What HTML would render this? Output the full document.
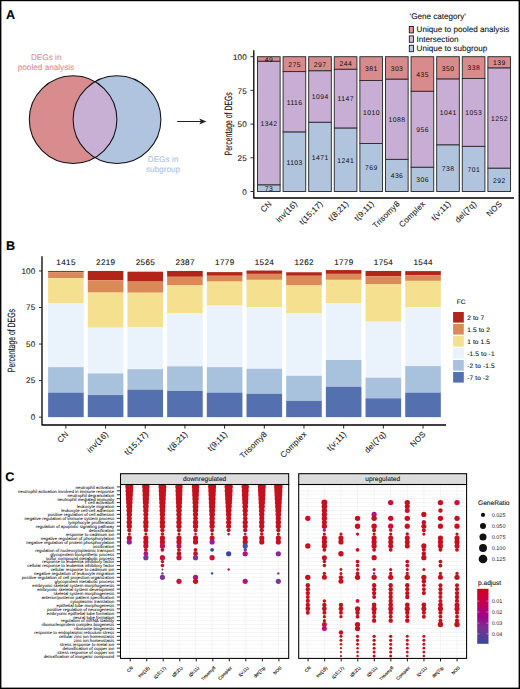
<!DOCTYPE html><html><head><meta charset="utf-8"><style>html,body{margin:0;padding:0;background:#fff}svg{display:block}text{font-family:"Liberation Sans", sans-serif;stroke-width:0.1px;text-rendering:geometricPrecision}</style></head><body>
<svg width="520" height="689" viewBox="0 0 520 689">
<rect width="520" height="689" fill="#fff"/>
<circle cx="73.1" cy="119.6" r="43.8" fill="#D98C8E"/>
<circle cx="117.0" cy="119.6" r="43.9" fill="#B0C4E0"/>
<clipPath id="cl"><circle cx="73.1" cy="119.6" r="43.8"/></clipPath>
<circle cx="117.0" cy="119.6" r="43.9" fill="#C8AFD4" clip-path="url(#cl)"/>
<circle cx="73.1" cy="119.6" r="43.8" fill="none" stroke="#111" stroke-width="1.05"/>
<circle cx="117.0" cy="119.6" r="43.9" fill="none" stroke="#111" stroke-width="1.05"/>
<g font-size="8.2" fill="#DA9094" text-anchor="middle" stroke="#DA9094"><text x="46.2" y="59.6">DEGs in</text><text x="46" y="69.6">pooled analysis</text></g>
<g font-size="8.2" fill="#AEC3E4" text-anchor="middle" stroke="#AEC3E4"><text x="163" y="162.3">DEGs in</text><text x="163" y="172.3">subgroup</text></g>
<line x1="177.2" y1="121.5" x2="201" y2="121.5" stroke="#222" stroke-width="1"/>
<path d="M206.4,121.5 L199.3,118.6 L200.9,121.5 L199.3,124.4 Z" fill="#222"/>
<rect x="257.48" y="184.78" width="22.65" height="6.72" fill="#B0C4DE" stroke="#2e2e2e" stroke-width="0.95"/>
<rect x="257.48" y="61.21" width="22.65" height="123.57" fill="#C8AED4" stroke="#2e2e2e" stroke-width="0.95"/>
<rect x="257.48" y="56.70" width="22.65" height="4.51" fill="#D88A8C" stroke="#2e2e2e" stroke-width="0.95"/>
<text x="269.02" y="191.04" font-size="6.8" letter-spacing="0.45" text-anchor="middle" fill="#111" stroke="none">73</text>
<text x="269.02" y="125.90" font-size="6.8" letter-spacing="0.45" text-anchor="middle" fill="#111" stroke="none">1342</text>
<text x="269.02" y="61.86" font-size="6.8" letter-spacing="0.45" text-anchor="middle" fill="#111" stroke="none">49</text>
<text transform="translate(272.20,204.3) rotate(-45)" text-anchor="end" letter-spacing="0.25" font-size="8.0" fill="#1a1a1a" stroke="#1a1a1a">CN</text>
<rect x="283.08" y="131.88" width="22.65" height="59.62" fill="#B0C4DE" stroke="#2e2e2e" stroke-width="0.95"/>
<rect x="283.08" y="71.56" width="22.65" height="60.32" fill="#C8AED4" stroke="#2e2e2e" stroke-width="0.95"/>
<rect x="283.08" y="56.70" width="22.65" height="14.86" fill="#D88A8C" stroke="#2e2e2e" stroke-width="0.95"/>
<text x="294.62" y="164.59" font-size="6.8" letter-spacing="0.45" text-anchor="middle" fill="#111" stroke="none">1103</text>
<text x="294.62" y="104.62" font-size="6.8" letter-spacing="0.45" text-anchor="middle" fill="#111" stroke="none">1116</text>
<text x="294.62" y="67.03" font-size="6.8" letter-spacing="0.45" text-anchor="middle" fill="#111" stroke="none">275</text>
<text transform="translate(297.80,204.3) rotate(-45)" text-anchor="end" letter-spacing="0.25" font-size="8.0" fill="#1a1a1a" stroke="#1a1a1a">inv(16)</text>
<rect x="308.68" y="122.22" width="22.65" height="69.28" fill="#B0C4DE" stroke="#2e2e2e" stroke-width="0.95"/>
<rect x="308.68" y="70.69" width="22.65" height="51.53" fill="#C8AED4" stroke="#2e2e2e" stroke-width="0.95"/>
<rect x="308.68" y="56.70" width="22.65" height="13.99" fill="#D88A8C" stroke="#2e2e2e" stroke-width="0.95"/>
<text x="320.22" y="159.76" font-size="6.8" letter-spacing="0.45" text-anchor="middle" fill="#111" stroke="none">1471</text>
<text x="320.22" y="99.35" font-size="6.8" letter-spacing="0.45" text-anchor="middle" fill="#111" stroke="none">1094</text>
<text x="320.22" y="66.59" font-size="6.8" letter-spacing="0.45" text-anchor="middle" fill="#111" stroke="none">297</text>
<text transform="translate(323.40,204.3) rotate(-45)" text-anchor="end" letter-spacing="0.25" font-size="8.0" fill="#1a1a1a" stroke="#1a1a1a">t(15;17)</text>
<rect x="334.28" y="127.94" width="22.65" height="63.56" fill="#B0C4DE" stroke="#2e2e2e" stroke-width="0.95"/>
<rect x="334.28" y="69.20" width="22.65" height="58.74" fill="#C8AED4" stroke="#2e2e2e" stroke-width="0.95"/>
<rect x="334.28" y="56.70" width="22.65" height="12.50" fill="#D88A8C" stroke="#2e2e2e" stroke-width="0.95"/>
<text x="345.82" y="162.62" font-size="6.8" letter-spacing="0.45" text-anchor="middle" fill="#111" stroke="none">1241</text>
<text x="345.82" y="101.47" font-size="6.8" letter-spacing="0.45" text-anchor="middle" fill="#111" stroke="none">1147</text>
<text x="345.82" y="65.85" font-size="6.8" letter-spacing="0.45" text-anchor="middle" fill="#111" stroke="none">244</text>
<text transform="translate(349.00,204.3) rotate(-45)" text-anchor="end" letter-spacing="0.25" font-size="8.0" fill="#1a1a1a" stroke="#1a1a1a">t(8;21)</text>
<rect x="359.88" y="143.51" width="22.65" height="47.99" fill="#B0C4DE" stroke="#2e2e2e" stroke-width="0.95"/>
<rect x="359.88" y="80.48" width="22.65" height="63.03" fill="#C8AED4" stroke="#2e2e2e" stroke-width="0.95"/>
<rect x="359.88" y="56.70" width="22.65" height="23.78" fill="#D88A8C" stroke="#2e2e2e" stroke-width="0.95"/>
<text x="371.42" y="170.40" font-size="6.8" letter-spacing="0.45" text-anchor="middle" fill="#111" stroke="none">769</text>
<text x="371.42" y="114.89" font-size="6.8" letter-spacing="0.45" text-anchor="middle" fill="#111" stroke="none">1010</text>
<text x="371.42" y="71.49" font-size="6.8" letter-spacing="0.45" text-anchor="middle" fill="#111" stroke="none">381</text>
<text transform="translate(374.60,204.3) rotate(-45)" text-anchor="end" letter-spacing="0.25" font-size="8.0" fill="#1a1a1a" stroke="#1a1a1a">t(9;11)</text>
<rect x="385.48" y="159.33" width="22.65" height="32.17" fill="#B0C4DE" stroke="#2e2e2e" stroke-width="0.95"/>
<rect x="385.48" y="79.06" width="22.65" height="80.27" fill="#C8AED4" stroke="#2e2e2e" stroke-width="0.95"/>
<rect x="385.48" y="56.70" width="22.65" height="22.36" fill="#D88A8C" stroke="#2e2e2e" stroke-width="0.95"/>
<text x="397.02" y="178.32" font-size="6.8" letter-spacing="0.45" text-anchor="middle" fill="#111" stroke="none">436</text>
<text x="397.02" y="122.09" font-size="6.8" letter-spacing="0.45" text-anchor="middle" fill="#111" stroke="none">1088</text>
<text x="397.02" y="70.78" font-size="6.8" letter-spacing="0.45" text-anchor="middle" fill="#111" stroke="none">303</text>
<text transform="translate(400.20,204.3) rotate(-45)" text-anchor="end" letter-spacing="0.25" font-size="8.0" fill="#1a1a1a" stroke="#1a1a1a">Trisomy8</text>
<rect x="411.08" y="167.19" width="22.65" height="24.31" fill="#B0C4DE" stroke="#2e2e2e" stroke-width="0.95"/>
<rect x="411.08" y="91.25" width="22.65" height="75.94" fill="#C8AED4" stroke="#2e2e2e" stroke-width="0.95"/>
<rect x="411.08" y="56.70" width="22.65" height="34.55" fill="#D88A8C" stroke="#2e2e2e" stroke-width="0.95"/>
<text x="422.62" y="182.25" font-size="6.8" letter-spacing="0.45" text-anchor="middle" fill="#111" stroke="none">306</text>
<text x="422.62" y="132.12" font-size="6.8" letter-spacing="0.45" text-anchor="middle" fill="#111" stroke="none">956</text>
<text x="422.62" y="76.88" font-size="6.8" letter-spacing="0.45" text-anchor="middle" fill="#111" stroke="none">435</text>
<text transform="translate(425.80,204.3) rotate(-45)" text-anchor="end" letter-spacing="0.25" font-size="8.0" fill="#1a1a1a" stroke="#1a1a1a">Complex</text>
<rect x="436.68" y="144.77" width="22.65" height="46.73" fill="#B0C4DE" stroke="#2e2e2e" stroke-width="0.95"/>
<rect x="436.68" y="78.86" width="22.65" height="65.91" fill="#C8AED4" stroke="#2e2e2e" stroke-width="0.95"/>
<rect x="436.68" y="56.70" width="22.65" height="22.16" fill="#D88A8C" stroke="#2e2e2e" stroke-width="0.95"/>
<text x="448.22" y="171.04" font-size="6.8" letter-spacing="0.45" text-anchor="middle" fill="#111" stroke="none">738</text>
<text x="448.22" y="114.72" font-size="6.8" letter-spacing="0.45" text-anchor="middle" fill="#111" stroke="none">1041</text>
<text x="448.22" y="70.68" font-size="6.8" letter-spacing="0.45" text-anchor="middle" fill="#111" stroke="none">350</text>
<text transform="translate(451.40,204.3) rotate(-45)" text-anchor="end" letter-spacing="0.25" font-size="8.0" fill="#1a1a1a" stroke="#1a1a1a">t(v;11)</text>
<rect x="462.28" y="146.33" width="22.65" height="45.17" fill="#B0C4DE" stroke="#2e2e2e" stroke-width="0.95"/>
<rect x="462.28" y="78.48" width="22.65" height="67.85" fill="#C8AED4" stroke="#2e2e2e" stroke-width="0.95"/>
<rect x="462.28" y="56.70" width="22.65" height="21.78" fill="#D88A8C" stroke="#2e2e2e" stroke-width="0.95"/>
<text x="473.82" y="171.82" font-size="6.8" letter-spacing="0.45" text-anchor="middle" fill="#111" stroke="none">701</text>
<text x="473.82" y="115.30" font-size="6.8" letter-spacing="0.45" text-anchor="middle" fill="#111" stroke="none">1053</text>
<text x="473.82" y="70.49" font-size="6.8" letter-spacing="0.45" text-anchor="middle" fill="#111" stroke="none">338</text>
<text transform="translate(477.00,204.3) rotate(-45)" text-anchor="end" letter-spacing="0.25" font-size="8.0" fill="#1a1a1a" stroke="#1a1a1a">del(7q)</text>
<rect x="487.88" y="168.11" width="22.65" height="23.39" fill="#B0C4DE" stroke="#2e2e2e" stroke-width="0.95"/>
<rect x="487.88" y="67.83" width="22.65" height="100.28" fill="#C8AED4" stroke="#2e2e2e" stroke-width="0.95"/>
<rect x="487.88" y="56.70" width="22.65" height="11.13" fill="#D88A8C" stroke="#2e2e2e" stroke-width="0.95"/>
<text x="499.42" y="182.71" font-size="6.8" letter-spacing="0.45" text-anchor="middle" fill="#111" stroke="none">292</text>
<text x="499.42" y="120.87" font-size="6.8" letter-spacing="0.45" text-anchor="middle" fill="#111" stroke="none">1252</text>
<text x="499.42" y="65.17" font-size="6.8" letter-spacing="0.45" text-anchor="middle" fill="#111" stroke="none">139</text>
<text transform="translate(502.60,204.3) rotate(-45)" text-anchor="end" letter-spacing="0.25" font-size="8.0" fill="#1a1a1a" stroke="#1a1a1a">NOS</text>
<path d="M253.8,50.2V198H514" fill="none" stroke="#000" stroke-width="1.3" stroke-linejoin="round"/>
<line x1="250.5" y1="191.50" x2="253.8" y2="191.50" stroke="#222" stroke-width="0.95"/>
<text x="247.0" y="194.70" letter-spacing="0.2" font-size="8.1" text-anchor="end" fill="#222" stroke="#222">0</text>
<line x1="250.5" y1="157.80" x2="253.8" y2="157.80" stroke="#222" stroke-width="0.95"/>
<text x="247.0" y="161.00" letter-spacing="0.2" font-size="8.1" text-anchor="end" fill="#222" stroke="#222">25</text>
<line x1="250.5" y1="124.10" x2="253.8" y2="124.10" stroke="#222" stroke-width="0.95"/>
<text x="247.0" y="127.30" letter-spacing="0.2" font-size="8.1" text-anchor="end" fill="#222" stroke="#222">50</text>
<line x1="250.5" y1="90.40" x2="253.8" y2="90.40" stroke="#222" stroke-width="0.95"/>
<text x="247.0" y="93.60" letter-spacing="0.2" font-size="8.1" text-anchor="end" fill="#222" stroke="#222">75</text>
<line x1="250.5" y1="56.70" x2="253.8" y2="56.70" stroke="#222" stroke-width="0.95"/>
<text x="247.0" y="59.90" letter-spacing="0.2" font-size="8.1" text-anchor="end" fill="#222" stroke="#222">100</text>
<text transform="translate(232.0,123.8) rotate(-90) scale(0.65,1)" text-anchor="middle" font-size="10.6" fill="#111" stroke="#111">Percentage of DEGs</text>
<text x="409.6" y="19.4" font-size="8.1" fill="#111" stroke="#111">'Gene category'</text>
<rect x="409.3" y="26.50" width="4.1" height="6.4" fill="#EE8E8E" stroke="#1a1a1a" stroke-width="0.9"/>
<text x="416.6" y="32.30" font-size="8.1" fill="#111" stroke="#111">Unique to pooled analysis</text>
<rect x="409.3" y="35.90" width="4.1" height="6.4" fill="#DDB8E6" stroke="#1a1a1a" stroke-width="0.9"/>
<text x="416.6" y="41.70" font-size="8.1" fill="#111" stroke="#111">Intersection</text>
<rect x="409.3" y="45.30" width="4.1" height="6.4" fill="#B8CEEE" stroke="#1a1a1a" stroke-width="0.9"/>
<text x="416.6" y="51.10" font-size="8.1" fill="#111" stroke="#111">Unique to subgroup</text>
<rect x="48.10" y="270.95" width="35.60" height="1.46" fill="#B32519"/>
<rect x="48.10" y="272.41" width="35.60" height="5.85" fill="#DA8A56"/>
<rect x="48.10" y="278.26" width="35.60" height="24.85" fill="#F4E08F"/>
<rect x="48.10" y="303.11" width="35.60" height="64.04" fill="#EAF2FB"/>
<rect x="48.10" y="367.15" width="35.60" height="25.44" fill="#A8C1DC"/>
<rect x="48.10" y="392.59" width="35.60" height="24.56" fill="#5470AE"/>
<text x="66.07" y="265.4" font-size="8.1" letter-spacing="0.35" text-anchor="middle" fill="#111" stroke="#111">1415</text>
<line x1="65.90" y1="425" x2="65.90" y2="428.6" stroke="#222" stroke-width="0.95"/>
<text transform="translate(69.10,434.6) rotate(-45)" text-anchor="end" letter-spacing="0.25" font-size="8.0" fill="#1a1a1a" stroke="#1a1a1a">CN</text>
<rect x="87.78" y="270.95" width="35.60" height="9.36" fill="#B32519"/>
<rect x="87.78" y="280.31" width="35.60" height="12.28" fill="#DA8A56"/>
<rect x="87.78" y="292.59" width="35.60" height="35.09" fill="#F4E08F"/>
<rect x="87.78" y="327.68" width="35.60" height="45.76" fill="#EAF2FB"/>
<rect x="87.78" y="373.44" width="35.60" height="21.64" fill="#A8C1DC"/>
<rect x="87.78" y="395.07" width="35.60" height="22.08" fill="#5470AE"/>
<text x="105.75" y="265.4" font-size="8.1" letter-spacing="0.35" text-anchor="middle" fill="#111" stroke="#111">2219</text>
<line x1="105.58" y1="425" x2="105.58" y2="428.6" stroke="#222" stroke-width="0.95"/>
<text transform="translate(108.78,434.6) rotate(-45)" text-anchor="end" letter-spacing="0.25" font-size="8.0" fill="#1a1a1a" stroke="#1a1a1a">inv(16)</text>
<rect x="127.46" y="271.68" width="35.60" height="9.94" fill="#B32519"/>
<rect x="127.46" y="281.62" width="35.60" height="11.11" fill="#DA8A56"/>
<rect x="127.46" y="292.73" width="35.60" height="34.50" fill="#F4E08F"/>
<rect x="127.46" y="327.24" width="35.60" height="41.96" fill="#EAF2FB"/>
<rect x="127.46" y="369.20" width="35.60" height="20.47" fill="#A8C1DC"/>
<rect x="127.46" y="389.66" width="35.60" height="27.49" fill="#5470AE"/>
<text x="145.43" y="265.4" font-size="8.1" letter-spacing="0.35" text-anchor="middle" fill="#111" stroke="#111">2565</text>
<line x1="145.26" y1="425" x2="145.26" y2="428.6" stroke="#222" stroke-width="0.95"/>
<text transform="translate(148.46,434.6) rotate(-45)" text-anchor="end" letter-spacing="0.25" font-size="8.0" fill="#1a1a1a" stroke="#1a1a1a">t(15;17)</text>
<rect x="167.14" y="270.95" width="35.60" height="5.85" fill="#B32519"/>
<rect x="167.14" y="276.80" width="35.60" height="8.63" fill="#DA8A56"/>
<rect x="167.14" y="285.42" width="35.60" height="27.92" fill="#F4E08F"/>
<rect x="167.14" y="313.35" width="35.60" height="52.92" fill="#EAF2FB"/>
<rect x="167.14" y="366.27" width="35.60" height="24.71" fill="#A8C1DC"/>
<rect x="167.14" y="390.98" width="35.60" height="26.17" fill="#5470AE"/>
<text x="185.11" y="265.4" font-size="8.1" letter-spacing="0.35" text-anchor="middle" fill="#111" stroke="#111">2387</text>
<line x1="184.94" y1="425" x2="184.94" y2="428.6" stroke="#222" stroke-width="0.95"/>
<text transform="translate(188.14,434.6) rotate(-45)" text-anchor="end" letter-spacing="0.25" font-size="8.0" fill="#1a1a1a" stroke="#1a1a1a">t(8;21)</text>
<rect x="206.82" y="272.12" width="35.60" height="3.65" fill="#B32519"/>
<rect x="206.82" y="275.77" width="35.60" height="5.85" fill="#DA8A56"/>
<rect x="206.82" y="281.62" width="35.60" height="23.98" fill="#F4E08F"/>
<rect x="206.82" y="305.60" width="35.60" height="61.55" fill="#EAF2FB"/>
<rect x="206.82" y="367.15" width="35.60" height="25.44" fill="#A8C1DC"/>
<rect x="206.82" y="392.59" width="35.60" height="24.56" fill="#5470AE"/>
<text x="224.79" y="265.4" font-size="8.1" letter-spacing="0.35" text-anchor="middle" fill="#111" stroke="#111">1779</text>
<line x1="224.62" y1="425" x2="224.62" y2="428.6" stroke="#222" stroke-width="0.95"/>
<text transform="translate(227.82,434.6) rotate(-45)" text-anchor="end" letter-spacing="0.25" font-size="8.0" fill="#1a1a1a" stroke="#1a1a1a">t(9;11)</text>
<rect x="246.50" y="270.51" width="35.60" height="3.36" fill="#B32519"/>
<rect x="246.50" y="273.87" width="35.60" height="5.99" fill="#DA8A56"/>
<rect x="246.50" y="279.87" width="35.60" height="27.49" fill="#F4E08F"/>
<rect x="246.50" y="307.35" width="35.60" height="61.40" fill="#EAF2FB"/>
<rect x="246.50" y="368.76" width="35.60" height="25.00" fill="#A8C1DC"/>
<rect x="246.50" y="393.76" width="35.60" height="23.39" fill="#5470AE"/>
<text x="264.47" y="265.4" font-size="8.1" letter-spacing="0.35" text-anchor="middle" fill="#111" stroke="#111">1524</text>
<line x1="264.30" y1="425" x2="264.30" y2="428.6" stroke="#222" stroke-width="0.95"/>
<text transform="translate(267.50,434.6) rotate(-45)" text-anchor="end" letter-spacing="0.25" font-size="8.0" fill="#1a1a1a" stroke="#1a1a1a">Trisomy8</text>
<rect x="286.18" y="272.27" width="35.60" height="3.51" fill="#B32519"/>
<rect x="286.18" y="275.77" width="35.60" height="9.65" fill="#DA8A56"/>
<rect x="286.18" y="285.42" width="35.60" height="28.07" fill="#F4E08F"/>
<rect x="286.18" y="313.49" width="35.60" height="62.28" fill="#EAF2FB"/>
<rect x="286.18" y="375.78" width="35.60" height="25.15" fill="#A8C1DC"/>
<rect x="286.18" y="400.92" width="35.60" height="16.23" fill="#5470AE"/>
<text x="304.15" y="265.4" font-size="8.1" letter-spacing="0.35" text-anchor="middle" fill="#111" stroke="#111">1262</text>
<line x1="303.98" y1="425" x2="303.98" y2="428.6" stroke="#222" stroke-width="0.95"/>
<text transform="translate(307.18,434.6) rotate(-45)" text-anchor="end" letter-spacing="0.25" font-size="8.0" fill="#1a1a1a" stroke="#1a1a1a">Complex</text>
<rect x="325.86" y="270.07" width="35.60" height="3.80" fill="#B32519"/>
<rect x="325.86" y="273.87" width="35.60" height="5.99" fill="#DA8A56"/>
<rect x="325.86" y="279.87" width="35.60" height="23.25" fill="#F4E08F"/>
<rect x="325.86" y="303.11" width="35.60" height="56.87" fill="#EAF2FB"/>
<rect x="325.86" y="359.99" width="35.60" height="26.75" fill="#A8C1DC"/>
<rect x="325.86" y="386.74" width="35.60" height="30.41" fill="#5470AE"/>
<text x="343.83" y="265.4" font-size="8.1" letter-spacing="0.35" text-anchor="middle" fill="#111" stroke="#111">1779</text>
<line x1="343.66" y1="425" x2="343.66" y2="428.6" stroke="#222" stroke-width="0.95"/>
<text transform="translate(346.86,434.6) rotate(-45)" text-anchor="end" letter-spacing="0.25" font-size="8.0" fill="#1a1a1a" stroke="#1a1a1a">t(v;11)</text>
<rect x="365.54" y="270.95" width="35.60" height="5.26" fill="#B32519"/>
<rect x="365.54" y="276.21" width="35.60" height="8.19" fill="#DA8A56"/>
<rect x="365.54" y="284.40" width="35.60" height="37.28" fill="#F4E08F"/>
<rect x="365.54" y="321.68" width="35.60" height="55.99" fill="#EAF2FB"/>
<rect x="365.54" y="377.68" width="35.60" height="20.61" fill="#A8C1DC"/>
<rect x="365.54" y="398.29" width="35.60" height="18.86" fill="#5470AE"/>
<text x="383.51" y="265.4" font-size="8.1" letter-spacing="0.35" text-anchor="middle" fill="#111" stroke="#111">1754</text>
<line x1="383.34" y1="425" x2="383.34" y2="428.6" stroke="#222" stroke-width="0.95"/>
<text transform="translate(386.54,434.6) rotate(-45)" text-anchor="end" letter-spacing="0.25" font-size="8.0" fill="#1a1a1a" stroke="#1a1a1a">del(7q)</text>
<rect x="405.22" y="271.10" width="35.60" height="4.09" fill="#B32519"/>
<rect x="405.22" y="275.19" width="35.60" height="5.70" fill="#DA8A56"/>
<rect x="405.22" y="280.89" width="35.60" height="26.46" fill="#F4E08F"/>
<rect x="405.22" y="307.35" width="35.60" height="58.77" fill="#EAF2FB"/>
<rect x="405.22" y="366.13" width="35.60" height="26.46" fill="#A8C1DC"/>
<rect x="405.22" y="392.59" width="35.60" height="24.56" fill="#5470AE"/>
<text x="423.19" y="265.4" font-size="8.1" letter-spacing="0.35" text-anchor="middle" fill="#111" stroke="#111">1544</text>
<line x1="423.02" y1="425" x2="423.02" y2="428.6" stroke="#222" stroke-width="0.95"/>
<text transform="translate(426.22,434.6) rotate(-45)" text-anchor="end" letter-spacing="0.25" font-size="8.0" fill="#1a1a1a" stroke="#1a1a1a">NOS</text>
<path d="M42,256.2V425H446" fill="none" stroke="#000" stroke-width="1.3" stroke-linejoin="round"/>
<line x1="39" y1="417.15" x2="42" y2="417.15" stroke="#222" stroke-width="0.95"/>
<text x="35.5" y="419.85" letter-spacing="0.2" font-size="8.1" text-anchor="end" fill="#222" stroke="#222">0</text>
<line x1="39" y1="380.60" x2="42" y2="380.60" stroke="#222" stroke-width="0.95"/>
<text x="35.5" y="383.30" letter-spacing="0.2" font-size="8.1" text-anchor="end" fill="#222" stroke="#222">25</text>
<line x1="39" y1="344.05" x2="42" y2="344.05" stroke="#222" stroke-width="0.95"/>
<text x="35.5" y="346.75" letter-spacing="0.2" font-size="8.1" text-anchor="end" fill="#222" stroke="#222">50</text>
<line x1="39" y1="307.50" x2="42" y2="307.50" stroke="#222" stroke-width="0.95"/>
<text x="35.5" y="310.20" letter-spacing="0.2" font-size="8.1" text-anchor="end" fill="#222" stroke="#222">75</text>
<line x1="39" y1="270.95" x2="42" y2="270.95" stroke="#222" stroke-width="0.95"/>
<text x="35.5" y="273.65" letter-spacing="0.2" font-size="8.1" text-anchor="end" fill="#222" stroke="#222">100</text>
<text transform="translate(14.5,340.6) rotate(-90) scale(0.65,1)" text-anchor="middle" font-size="10.6" fill="#111" stroke="#111">Percentage of DEGs</text>
<text x="456.8" y="303.5" font-size="6.5" fill="#111" stroke="#111">FC</text>
<rect x="453.1" y="312.00" width="10.7" height="10.6" fill="#B32519"/>
<text x="467.2" y="319.60" font-size="6.5" letter-spacing="0.15" fill="#111" stroke="#111">2 to 7</text>
<rect x="453.1" y="324.00" width="10.7" height="10.6" fill="#DA8A56"/>
<text x="467.2" y="331.60" font-size="6.5" letter-spacing="0.15" fill="#111" stroke="#111">1.5 to 2</text>
<rect x="453.1" y="336.00" width="10.7" height="10.6" fill="#F4E08F"/>
<text x="467.2" y="343.60" font-size="6.5" letter-spacing="0.15" fill="#111" stroke="#111">1 to 1.5</text>
<rect x="453.1" y="348.00" width="10.7" height="10.6" fill="#EAF2FB"/>
<text x="467.2" y="355.60" font-size="6.5" letter-spacing="0.15" fill="#111" stroke="#111">-1.5 to -1</text>
<rect x="453.1" y="360.00" width="10.7" height="10.6" fill="#A8C1DC"/>
<text x="467.2" y="367.60" font-size="6.5" letter-spacing="0.15" fill="#111" stroke="#111">-2 to -1.5</text>
<rect x="453.1" y="372.00" width="10.7" height="10.6" fill="#5470AE"/>
<text x="467.2" y="379.60" font-size="6.5" letter-spacing="0.15" fill="#111" stroke="#111">-7 to -2</text>
<clipPath id="cd"><rect x="120.5" y="484.5" width="168.3" height="173.9"/></clipPath>
<clipPath id="cu"><rect x="298.7" y="484.5" width="167.9" height="173.9"/></clipPath>
<path d="M120.5,486.86H288.7M120.5,490.80H288.7M120.5,494.73H288.7M120.5,498.66H288.7M120.5,502.60H288.7M120.5,506.53H288.7M120.5,510.47H288.7M120.5,514.40H288.7M120.5,518.34H288.7M120.5,522.27H288.7M120.5,526.20H288.7M120.5,530.14H288.7M120.5,534.07H288.7M120.5,538.01H288.7M120.5,541.94H288.7M120.5,545.88H288.7M120.5,549.81H288.7M120.5,553.75H288.7M120.5,557.68H288.7M120.5,561.61H288.7M120.5,565.55H288.7M120.5,569.48H288.7M120.5,573.42H288.7M120.5,577.35H288.7M120.5,581.29H288.7M120.5,585.22H288.7M120.5,589.15H288.7M120.5,593.09H288.7M120.5,597.02H288.7M120.5,600.96H288.7M120.5,604.89H288.7M120.5,608.83H288.7M120.5,612.76H288.7M120.5,616.70H288.7M120.5,620.63H288.7M120.5,624.56H288.7M120.5,628.50H288.7M120.5,632.43H288.7M120.5,636.37H288.7M120.5,640.30H288.7M120.5,644.24H288.7M120.5,648.17H288.7M120.5,652.10H288.7M120.5,656.04H288.7M129.30,484.5V658.4M145.86,484.5V658.4M162.42,484.5V658.4M178.98,484.5V658.4M195.54,484.5V658.4M212.10,484.5V658.4M228.66,484.5V658.4M245.22,484.5V658.4M261.78,484.5V658.4M278.34,484.5V658.4" stroke="#EBEBEB" stroke-width="0.55" fill="none"/>
<g clip-path="url(#cd)">
<circle cx="129.30" cy="486.86" r="4.00" fill="#C6101E"/>
<circle cx="129.30" cy="490.80" r="3.81" fill="#C6101E"/>
<circle cx="129.30" cy="494.73" r="3.62" fill="#C6101E"/>
<circle cx="129.30" cy="498.66" r="3.44" fill="#C6101E"/>
<circle cx="129.30" cy="502.60" r="3.25" fill="#C6101E"/>
<circle cx="129.30" cy="506.53" r="3.06" fill="#C6101E"/>
<circle cx="129.30" cy="510.47" r="2.88" fill="#C6101E"/>
<circle cx="129.30" cy="514.40" r="2.69" fill="#C6101E"/>
<circle cx="129.30" cy="518.34" r="2.50" fill="#C6101E"/>
<circle cx="129.30" cy="522.27" r="2.70" fill="#C6101E"/>
<circle cx="129.30" cy="526.20" r="2.60" fill="#C6101E"/>
<circle cx="129.30" cy="530.14" r="2.00" fill="#C6101E"/>
<circle cx="129.30" cy="534.07" r="1.50" fill="#C6101E"/>
<circle cx="129.30" cy="538.01" r="2.60" fill="#C6101E"/>
<circle cx="129.30" cy="541.94" r="2.60" fill="#9A1C98"/>
<circle cx="145.86" cy="486.86" r="3.70" fill="#C6101E"/>
<circle cx="145.86" cy="490.80" r="3.53" fill="#C6101E"/>
<circle cx="145.86" cy="494.73" r="3.36" fill="#C6101E"/>
<circle cx="145.86" cy="498.66" r="3.19" fill="#C6101E"/>
<circle cx="145.86" cy="502.60" r="3.03" fill="#C6101E"/>
<circle cx="145.86" cy="506.53" r="2.86" fill="#C6101E"/>
<circle cx="145.86" cy="510.47" r="2.69" fill="#C6101E"/>
<circle cx="145.86" cy="514.40" r="2.52" fill="#C6101E"/>
<circle cx="145.86" cy="518.34" r="2.35" fill="#C6101E"/>
<circle cx="145.86" cy="522.27" r="2.70" fill="#C6101E"/>
<circle cx="145.86" cy="526.20" r="2.60" fill="#C6101E"/>
<circle cx="145.86" cy="530.14" r="2.15" fill="#C6101E"/>
<circle cx="145.86" cy="534.07" r="1.50" fill="#C6101E"/>
<circle cx="145.86" cy="538.01" r="2.60" fill="#C6101E"/>
<circle cx="145.86" cy="541.94" r="2.60" fill="#C6101E"/>
<circle cx="145.86" cy="545.88" r="2.60" fill="#C81038"/>
<circle cx="145.86" cy="549.81" r="1.90" fill="#C6101E"/>
<circle cx="145.86" cy="553.75" r="2.40" fill="#B8107A"/>
<circle cx="145.86" cy="557.68" r="2.60" fill="#7A3898"/>
<circle cx="162.42" cy="486.86" r="3.90" fill="#C6101E"/>
<circle cx="162.42" cy="490.80" r="3.73" fill="#C6101E"/>
<circle cx="162.42" cy="494.73" r="3.55" fill="#C6101E"/>
<circle cx="162.42" cy="498.66" r="3.38" fill="#C6101E"/>
<circle cx="162.42" cy="502.60" r="3.20" fill="#C6101E"/>
<circle cx="162.42" cy="506.53" r="3.02" fill="#C6101E"/>
<circle cx="162.42" cy="510.47" r="2.85" fill="#C6101E"/>
<circle cx="162.42" cy="514.40" r="2.67" fill="#C6101E"/>
<circle cx="162.42" cy="518.34" r="2.50" fill="#C6101E"/>
<circle cx="162.42" cy="522.27" r="2.70" fill="#C6101E"/>
<circle cx="162.42" cy="526.20" r="2.60" fill="#C6101E"/>
<circle cx="162.42" cy="530.14" r="2.15" fill="#C6101E"/>
<circle cx="162.42" cy="534.07" r="1.75" fill="#C6101E"/>
<circle cx="162.42" cy="538.01" r="2.60" fill="#C6101E"/>
<circle cx="162.42" cy="541.94" r="2.60" fill="#C6101E"/>
<circle cx="162.42" cy="545.88" r="2.60" fill="#C0105A"/>
<circle cx="162.42" cy="549.81" r="1.90" fill="#C6101E"/>
<circle cx="162.42" cy="557.68" r="2.60" fill="#C81038"/>
<circle cx="162.42" cy="561.61" r="1.70" fill="#C6101E"/>
<circle cx="162.42" cy="565.55" r="1.80" fill="#C6101E"/>
<circle cx="162.42" cy="569.48" r="1.00" fill="#9A1C98"/>
<circle cx="162.42" cy="573.42" r="1.20" fill="#9A1C98"/>
<circle cx="162.42" cy="577.35" r="2.60" fill="#7A3898"/>
<circle cx="178.98" cy="486.86" r="3.70" fill="#C6101E"/>
<circle cx="178.98" cy="490.80" r="3.55" fill="#C6101E"/>
<circle cx="178.98" cy="494.73" r="3.40" fill="#C6101E"/>
<circle cx="178.98" cy="498.66" r="3.25" fill="#C6101E"/>
<circle cx="178.98" cy="502.60" r="3.10" fill="#C6101E"/>
<circle cx="178.98" cy="506.53" r="2.95" fill="#C6101E"/>
<circle cx="178.98" cy="510.47" r="2.80" fill="#C6101E"/>
<circle cx="178.98" cy="514.40" r="2.65" fill="#C6101E"/>
<circle cx="178.98" cy="518.34" r="2.50" fill="#C6101E"/>
<circle cx="178.98" cy="522.27" r="2.70" fill="#C6101E"/>
<circle cx="178.98" cy="526.20" r="2.60" fill="#C6101E"/>
<circle cx="178.98" cy="530.14" r="2.00" fill="#C6101E"/>
<circle cx="178.98" cy="534.07" r="1.50" fill="#C6101E"/>
<circle cx="178.98" cy="538.01" r="2.60" fill="#C6101E"/>
<circle cx="178.98" cy="541.94" r="2.60" fill="#C6101E"/>
<circle cx="178.98" cy="545.88" r="2.50" fill="#C0105A"/>
<circle cx="178.98" cy="549.81" r="1.90" fill="#C6101E"/>
<circle cx="178.98" cy="553.75" r="2.40" fill="#C6101E"/>
<circle cx="178.98" cy="557.68" r="2.60" fill="#C81038"/>
<circle cx="178.98" cy="581.29" r="2.60" fill="#C81038"/>
<circle cx="195.54" cy="486.86" r="3.70" fill="#C6101E"/>
<circle cx="195.54" cy="490.80" r="3.54" fill="#C6101E"/>
<circle cx="195.54" cy="494.73" r="3.38" fill="#C6101E"/>
<circle cx="195.54" cy="498.66" r="3.21" fill="#C6101E"/>
<circle cx="195.54" cy="502.60" r="3.05" fill="#C6101E"/>
<circle cx="195.54" cy="506.53" r="2.89" fill="#C6101E"/>
<circle cx="195.54" cy="510.47" r="2.73" fill="#C6101E"/>
<circle cx="195.54" cy="514.40" r="2.56" fill="#C6101E"/>
<circle cx="195.54" cy="518.34" r="2.40" fill="#C6101E"/>
<circle cx="195.54" cy="522.27" r="2.70" fill="#C6101E"/>
<circle cx="195.54" cy="526.20" r="2.60" fill="#C6101E"/>
<circle cx="195.54" cy="530.14" r="2.00" fill="#C6101E"/>
<circle cx="195.54" cy="534.07" r="1.40" fill="#B8107A"/>
<circle cx="195.54" cy="538.01" r="2.60" fill="#C6101E"/>
<circle cx="195.54" cy="541.94" r="2.60" fill="#C6101E"/>
<circle cx="195.54" cy="549.81" r="1.90" fill="#C6101E"/>
<circle cx="195.54" cy="553.75" r="2.40" fill="#C6101E"/>
<circle cx="195.54" cy="557.68" r="2.60" fill="#7A3898"/>
<circle cx="195.54" cy="577.35" r="2.60" fill="#B8107A"/>
<circle cx="195.54" cy="581.29" r="2.60" fill="#C6101E"/>
<circle cx="212.10" cy="486.86" r="4.00" fill="#C6101E"/>
<circle cx="212.10" cy="490.80" r="3.83" fill="#C6101E"/>
<circle cx="212.10" cy="494.73" r="3.66" fill="#C6101E"/>
<circle cx="212.10" cy="498.66" r="3.49" fill="#C6101E"/>
<circle cx="212.10" cy="502.60" r="3.33" fill="#C6101E"/>
<circle cx="212.10" cy="506.53" r="3.16" fill="#C6101E"/>
<circle cx="212.10" cy="510.47" r="2.99" fill="#C6101E"/>
<circle cx="212.10" cy="514.40" r="2.82" fill="#C6101E"/>
<circle cx="212.10" cy="518.34" r="2.65" fill="#C6101E"/>
<circle cx="212.10" cy="522.27" r="2.70" fill="#C6101E"/>
<circle cx="212.10" cy="526.20" r="2.60" fill="#C6101E"/>
<circle cx="212.10" cy="530.14" r="2.00" fill="#C6101E"/>
<circle cx="212.10" cy="534.07" r="1.50" fill="#C6101E"/>
<circle cx="212.10" cy="538.01" r="2.50" fill="#C6101E"/>
<circle cx="212.10" cy="541.94" r="2.60" fill="#9A1C98"/>
<circle cx="212.10" cy="549.81" r="1.90" fill="#3848A0"/>
<circle cx="212.10" cy="557.68" r="2.60" fill="#C81038"/>
<circle cx="212.10" cy="573.42" r="1.20" fill="#3848A0"/>
<circle cx="228.66" cy="486.86" r="4.20" fill="#C6101E"/>
<circle cx="228.66" cy="490.80" r="3.99" fill="#C6101E"/>
<circle cx="228.66" cy="494.73" r="3.78" fill="#C6101E"/>
<circle cx="228.66" cy="498.66" r="3.56" fill="#C6101E"/>
<circle cx="228.66" cy="502.60" r="3.35" fill="#C6101E"/>
<circle cx="228.66" cy="506.53" r="3.14" fill="#C6101E"/>
<circle cx="228.66" cy="510.47" r="2.92" fill="#C6101E"/>
<circle cx="228.66" cy="514.40" r="2.71" fill="#C6101E"/>
<circle cx="228.66" cy="518.34" r="2.50" fill="#C6101E"/>
<circle cx="228.66" cy="522.27" r="2.60" fill="#C6101E"/>
<circle cx="228.66" cy="526.20" r="2.50" fill="#C6101E"/>
<circle cx="228.66" cy="530.14" r="1.90" fill="#C6101E"/>
<circle cx="228.66" cy="534.07" r="1.40" fill="#B8107A"/>
<circle cx="228.66" cy="553.75" r="2.60" fill="#3848A0"/>
<circle cx="228.66" cy="569.48" r="1.20" fill="#B8107A"/>
<circle cx="245.22" cy="486.86" r="3.70" fill="#C6101E"/>
<circle cx="245.22" cy="490.80" r="3.53" fill="#C6101E"/>
<circle cx="245.22" cy="494.73" r="3.35" fill="#C6101E"/>
<circle cx="245.22" cy="498.66" r="3.17" fill="#C6101E"/>
<circle cx="245.22" cy="502.60" r="3.00" fill="#C6101E"/>
<circle cx="245.22" cy="506.53" r="2.83" fill="#C6101E"/>
<circle cx="245.22" cy="510.47" r="2.65" fill="#C6101E"/>
<circle cx="245.22" cy="514.40" r="2.47" fill="#C6101E"/>
<circle cx="245.22" cy="518.34" r="2.30" fill="#C6101E"/>
<circle cx="245.22" cy="522.27" r="2.60" fill="#C6101E"/>
<circle cx="245.22" cy="526.20" r="2.50" fill="#C6101E"/>
<circle cx="245.22" cy="530.14" r="2.10" fill="#C6101E"/>
<circle cx="245.22" cy="534.07" r="1.40" fill="#B8107A"/>
<circle cx="245.22" cy="538.01" r="2.60" fill="#C6101E"/>
<circle cx="245.22" cy="541.94" r="2.60" fill="#C6101E"/>
<circle cx="245.22" cy="545.88" r="2.60" fill="#4A50A8"/>
<circle cx="245.22" cy="549.81" r="1.70" fill="#6A3A9A"/>
<circle cx="245.22" cy="553.75" r="2.60" fill="#B8107A"/>
<circle cx="245.22" cy="581.29" r="2.60" fill="#B8107A"/>
<circle cx="261.78" cy="486.86" r="4.00" fill="#C6101E"/>
<circle cx="261.78" cy="490.80" r="3.81" fill="#C6101E"/>
<circle cx="261.78" cy="494.73" r="3.62" fill="#C6101E"/>
<circle cx="261.78" cy="498.66" r="3.44" fill="#C6101E"/>
<circle cx="261.78" cy="502.60" r="3.25" fill="#C6101E"/>
<circle cx="261.78" cy="506.53" r="3.06" fill="#C6101E"/>
<circle cx="261.78" cy="510.47" r="2.88" fill="#C6101E"/>
<circle cx="261.78" cy="514.40" r="2.69" fill="#C6101E"/>
<circle cx="261.78" cy="518.34" r="2.50" fill="#C6101E"/>
<circle cx="261.78" cy="522.27" r="2.70" fill="#C6101E"/>
<circle cx="261.78" cy="526.20" r="2.60" fill="#C6101E"/>
<circle cx="261.78" cy="530.14" r="2.15" fill="#C6101E"/>
<circle cx="261.78" cy="534.07" r="1.80" fill="#C6101E"/>
<circle cx="261.78" cy="538.01" r="2.60" fill="#C6101E"/>
<circle cx="261.78" cy="541.94" r="2.60" fill="#C6101E"/>
<circle cx="278.34" cy="486.86" r="4.30" fill="#C6101E"/>
<circle cx="278.34" cy="490.80" r="4.09" fill="#C6101E"/>
<circle cx="278.34" cy="494.73" r="3.88" fill="#C6101E"/>
<circle cx="278.34" cy="498.66" r="3.66" fill="#C6101E"/>
<circle cx="278.34" cy="502.60" r="3.45" fill="#C6101E"/>
<circle cx="278.34" cy="506.53" r="3.24" fill="#C6101E"/>
<circle cx="278.34" cy="510.47" r="3.02" fill="#C6101E"/>
<circle cx="278.34" cy="514.40" r="2.81" fill="#C6101E"/>
<circle cx="278.34" cy="518.34" r="2.60" fill="#C6101E"/>
<circle cx="278.34" cy="522.27" r="2.70" fill="#C6101E"/>
<circle cx="278.34" cy="526.20" r="2.60" fill="#C6101E"/>
<circle cx="278.34" cy="530.14" r="2.10" fill="#C6101E"/>
<circle cx="278.34" cy="534.07" r="1.60" fill="#C6101E"/>
<circle cx="278.34" cy="538.01" r="2.60" fill="#C6101E"/>
<circle cx="278.34" cy="541.94" r="2.60" fill="#C6101E"/>
<circle cx="278.34" cy="553.75" r="2.60" fill="#9A1C98"/>
<circle cx="278.34" cy="573.42" r="1.20" fill="#9A1C98"/>
<circle cx="278.34" cy="581.29" r="2.60" fill="#7A3898"/>
</g>
<rect x="120.5" y="484.5" width="168.20" height="173.90" fill="none" stroke="#000" stroke-width="1.05"/>
<rect x="120.5" y="473.7" width="168.20" height="10.80" fill="#DCDCDC" stroke="#000" stroke-width="1.05"/>
<text x="204.60" y="481.4" font-size="6.6" text-anchor="middle" fill="#1a1a1a" stroke="#1a1a1a">downregulated</text>
<text transform="translate(133.20,668.1) rotate(-45)" text-anchor="end" font-size="4.45" fill="#000" stroke="#000">CN</text>
<text transform="translate(149.72,668.1) rotate(-45)" text-anchor="end" font-size="4.45" fill="#000" stroke="#000">inv(16)</text>
<text transform="translate(166.24,668.1) rotate(-45)" text-anchor="end" font-size="4.45" fill="#000" stroke="#000">t(15;17)</text>
<text transform="translate(182.76,668.1) rotate(-45)" text-anchor="end" font-size="4.45" fill="#000" stroke="#000">t(8;21)</text>
<text transform="translate(199.28,668.1) rotate(-45)" text-anchor="end" font-size="4.45" fill="#000" stroke="#000">t(9;11)</text>
<text transform="translate(215.80,668.1) rotate(-45)" text-anchor="end" font-size="4.45" fill="#000" stroke="#000">Trisomy8</text>
<text transform="translate(232.32,668.1) rotate(-45)" text-anchor="end" font-size="4.45" fill="#000" stroke="#000">Complex</text>
<text transform="translate(248.84,668.1) rotate(-45)" text-anchor="end" font-size="4.45" fill="#000" stroke="#000">t(v;11)</text>
<text transform="translate(265.36,668.1) rotate(-45)" text-anchor="end" font-size="4.45" fill="#000" stroke="#000">del(7q)</text>
<text transform="translate(281.88,668.1) rotate(-45)" text-anchor="end" font-size="4.45" fill="#000" stroke="#000">NOS</text>
<path d="M130.20,658.4V661.4M146.72,658.4V661.4M163.24,658.4V661.4M179.76,658.4V661.4M196.28,658.4V661.4M212.80,658.4V661.4M229.32,658.4V661.4M245.84,658.4V661.4M262.36,658.4V661.4M278.88,658.4V661.4" stroke="#000" stroke-width="0.9"/>
<path d="M298.7,486.86H466.6M298.7,490.80H466.6M298.7,494.73H466.6M298.7,498.66H466.6M298.7,502.60H466.6M298.7,506.53H466.6M298.7,510.47H466.6M298.7,514.40H466.6M298.7,518.34H466.6M298.7,522.27H466.6M298.7,526.20H466.6M298.7,530.14H466.6M298.7,534.07H466.6M298.7,538.01H466.6M298.7,541.94H466.6M298.7,545.88H466.6M298.7,549.81H466.6M298.7,553.75H466.6M298.7,557.68H466.6M298.7,561.61H466.6M298.7,565.55H466.6M298.7,569.48H466.6M298.7,573.42H466.6M298.7,577.35H466.6M298.7,581.29H466.6M298.7,585.22H466.6M298.7,589.15H466.6M298.7,593.09H466.6M298.7,597.02H466.6M298.7,600.96H466.6M298.7,604.89H466.6M298.7,608.83H466.6M298.7,612.76H466.6M298.7,616.70H466.6M298.7,620.63H466.6M298.7,624.56H466.6M298.7,628.50H466.6M298.7,632.43H466.6M298.7,636.37H466.6M298.7,640.30H466.6M298.7,644.24H466.6M298.7,648.17H466.6M298.7,652.10H466.6M298.7,656.04H466.6M307.80,484.5V658.4M324.38,484.5V658.4M340.96,484.5V658.4M357.54,484.5V658.4M374.12,484.5V658.4M390.70,484.5V658.4M407.28,484.5V658.4M423.86,484.5V658.4M440.44,484.5V658.4M457.02,484.5V658.4" stroke="#EBEBEB" stroke-width="0.55" fill="none"/>
<g clip-path="url(#cu)">
<circle cx="307.80" cy="518.34" r="2.70" fill="#C6101E"/>
<circle cx="307.80" cy="545.88" r="2.70" fill="#C6101E"/>
<circle cx="307.80" cy="577.35" r="2.70" fill="#C6101E"/>
<circle cx="307.80" cy="585.22" r="2.20" fill="#C6101E"/>
<circle cx="307.80" cy="589.15" r="2.20" fill="#C6101E"/>
<circle cx="307.80" cy="593.09" r="2.20" fill="#C6101E"/>
<circle cx="307.80" cy="597.02" r="2.00" fill="#C6101E"/>
<circle cx="307.80" cy="600.96" r="2.10" fill="#C6101E"/>
<circle cx="307.80" cy="604.89" r="2.20" fill="#C6101E"/>
<circle cx="307.80" cy="608.83" r="2.40" fill="#C6101E"/>
<circle cx="307.80" cy="612.76" r="2.00" fill="#C6101E"/>
<circle cx="324.38" cy="502.60" r="3.00" fill="#C6101E"/>
<circle cx="324.38" cy="506.53" r="2.80" fill="#C6101E"/>
<circle cx="324.38" cy="510.47" r="2.70" fill="#C6101E"/>
<circle cx="324.38" cy="514.40" r="2.70" fill="#C6101E"/>
<circle cx="324.38" cy="518.34" r="2.70" fill="#C6101E"/>
<circle cx="324.38" cy="522.27" r="2.50" fill="#C6101E"/>
<circle cx="324.38" cy="526.20" r="2.60" fill="#C6101E"/>
<circle cx="324.38" cy="530.14" r="1.60" fill="#9A1C98"/>
<circle cx="324.38" cy="534.07" r="1.60" fill="#C6101E"/>
<circle cx="324.38" cy="538.01" r="2.60" fill="#C6101E"/>
<circle cx="324.38" cy="541.94" r="2.60" fill="#C6101E"/>
<circle cx="324.38" cy="545.88" r="2.60" fill="#C6101E"/>
<circle cx="324.38" cy="549.81" r="1.90" fill="#C6101E"/>
<circle cx="324.38" cy="557.68" r="2.50" fill="#C6101E"/>
<circle cx="324.38" cy="561.61" r="1.75" fill="#C6101E"/>
<circle cx="324.38" cy="565.55" r="1.80" fill="#C6101E"/>
<circle cx="324.38" cy="573.42" r="1.70" fill="#C6101E"/>
<circle cx="324.38" cy="577.35" r="2.50" fill="#C6101E"/>
<circle cx="324.38" cy="600.96" r="1.75" fill="#C6101E"/>
<circle cx="324.38" cy="604.89" r="2.20" fill="#C6101E"/>
<circle cx="324.38" cy="608.83" r="2.40" fill="#C6101E"/>
<circle cx="324.38" cy="612.76" r="2.00" fill="#C6101E"/>
<circle cx="324.38" cy="616.70" r="1.65" fill="#C6101E"/>
<circle cx="324.38" cy="620.63" r="1.65" fill="#C6101E"/>
<circle cx="324.38" cy="624.56" r="2.50" fill="#C81038"/>
<circle cx="324.38" cy="628.50" r="2.50" fill="#B8107A"/>
<circle cx="340.96" cy="534.07" r="1.60" fill="#C6101E"/>
<circle cx="340.96" cy="538.01" r="2.60" fill="#C6101E"/>
<circle cx="340.96" cy="541.94" r="2.60" fill="#C6101E"/>
<circle cx="340.96" cy="553.75" r="2.70" fill="#C6101E"/>
<circle cx="340.96" cy="569.48" r="1.40" fill="#C6101E"/>
<circle cx="340.96" cy="573.42" r="1.50" fill="#C6101E"/>
<circle cx="340.96" cy="577.35" r="2.20" fill="#C6101E"/>
<circle cx="340.96" cy="581.29" r="2.50" fill="#C6101E"/>
<circle cx="340.96" cy="604.89" r="2.20" fill="#C6101E"/>
<circle cx="340.96" cy="608.83" r="2.40" fill="#C6101E"/>
<circle cx="340.96" cy="612.76" r="2.00" fill="#C6101E"/>
<circle cx="340.96" cy="616.70" r="1.65" fill="#C6101E"/>
<circle cx="340.96" cy="632.43" r="2.20" fill="#C6101E"/>
<circle cx="340.96" cy="636.37" r="1.50" fill="#C6101E"/>
<circle cx="340.96" cy="640.30" r="1.50" fill="#C6101E"/>
<circle cx="340.96" cy="644.24" r="1.25" fill="#C6101E"/>
<circle cx="340.96" cy="648.17" r="1.10" fill="#C6101E"/>
<circle cx="340.96" cy="652.10" r="1.10" fill="#C6101E"/>
<circle cx="340.96" cy="656.04" r="1.10" fill="#C6101E"/>
<circle cx="357.54" cy="518.34" r="2.70" fill="#C6101E"/>
<circle cx="357.54" cy="526.20" r="2.70" fill="#C6101E"/>
<circle cx="357.54" cy="534.07" r="1.60" fill="#C6101E"/>
<circle cx="357.54" cy="549.81" r="1.90" fill="#C6101E"/>
<circle cx="357.54" cy="561.61" r="1.90" fill="#C6101E"/>
<circle cx="357.54" cy="565.55" r="1.80" fill="#C6101E"/>
<circle cx="357.54" cy="569.48" r="1.50" fill="#C6101E"/>
<circle cx="357.54" cy="573.42" r="1.90" fill="#C6101E"/>
<circle cx="357.54" cy="577.35" r="2.70" fill="#C6101E"/>
<circle cx="357.54" cy="600.96" r="1.90" fill="#C6101E"/>
<circle cx="357.54" cy="608.83" r="2.60" fill="#C6101E"/>
<circle cx="357.54" cy="612.76" r="2.20" fill="#C6101E"/>
<circle cx="357.54" cy="616.70" r="1.90" fill="#C6101E"/>
<circle cx="357.54" cy="624.56" r="2.60" fill="#C6101E"/>
<circle cx="357.54" cy="628.50" r="2.60" fill="#C6101E"/>
<circle cx="357.54" cy="636.37" r="1.60" fill="#C6101E"/>
<circle cx="357.54" cy="640.30" r="1.60" fill="#C6101E"/>
<circle cx="357.54" cy="644.24" r="1.40" fill="#C6101E"/>
<circle cx="357.54" cy="648.17" r="1.25" fill="#C6101E"/>
<circle cx="357.54" cy="652.10" r="1.25" fill="#C6101E"/>
<circle cx="357.54" cy="656.04" r="1.25" fill="#C6101E"/>
<circle cx="374.12" cy="514.40" r="2.60" fill="#B8107A"/>
<circle cx="374.12" cy="518.34" r="2.70" fill="#C6101E"/>
<circle cx="374.12" cy="526.20" r="2.70" fill="#C6101E"/>
<circle cx="374.12" cy="530.14" r="2.00" fill="#C6101E"/>
<circle cx="374.12" cy="534.07" r="1.60" fill="#C6101E"/>
<circle cx="374.12" cy="538.01" r="2.60" fill="#C6101E"/>
<circle cx="374.12" cy="541.94" r="2.60" fill="#C6101E"/>
<circle cx="374.12" cy="545.88" r="2.60" fill="#C6101E"/>
<circle cx="374.12" cy="549.81" r="1.90" fill="#C6101E"/>
<circle cx="374.12" cy="557.68" r="2.60" fill="#C6101E"/>
<circle cx="374.12" cy="569.48" r="1.50" fill="#C6101E"/>
<circle cx="374.12" cy="573.42" r="1.20" fill="#9A1C98"/>
<circle cx="374.12" cy="577.35" r="2.70" fill="#C6101E"/>
<circle cx="374.12" cy="585.22" r="2.20" fill="#C6101E"/>
<circle cx="374.12" cy="589.15" r="2.20" fill="#C6101E"/>
<circle cx="374.12" cy="593.09" r="2.20" fill="#C6101E"/>
<circle cx="374.12" cy="597.02" r="2.00" fill="#C6101E"/>
<circle cx="374.12" cy="604.89" r="2.40" fill="#C6101E"/>
<circle cx="374.12" cy="608.83" r="2.60" fill="#C6101E"/>
<circle cx="374.12" cy="612.76" r="2.20" fill="#C6101E"/>
<circle cx="374.12" cy="616.70" r="2.00" fill="#C6101E"/>
<circle cx="374.12" cy="620.63" r="2.20" fill="#C6101E"/>
<circle cx="374.12" cy="636.37" r="1.70" fill="#C6101E"/>
<circle cx="374.12" cy="640.30" r="1.60" fill="#C6101E"/>
<circle cx="374.12" cy="644.24" r="1.50" fill="#C6101E"/>
<circle cx="374.12" cy="648.17" r="1.50" fill="#C6101E"/>
<circle cx="374.12" cy="652.10" r="1.50" fill="#C6101E"/>
<circle cx="374.12" cy="656.04" r="1.50" fill="#C6101E"/>
<circle cx="390.70" cy="502.60" r="2.70" fill="#C81038"/>
<circle cx="390.70" cy="518.34" r="2.70" fill="#C6101E"/>
<circle cx="390.70" cy="526.20" r="2.60" fill="#C81038"/>
<circle cx="390.70" cy="530.14" r="1.70" fill="#C6101E"/>
<circle cx="390.70" cy="534.07" r="1.60" fill="#C6101E"/>
<circle cx="390.70" cy="538.01" r="2.50" fill="#C6101E"/>
<circle cx="390.70" cy="541.94" r="2.50" fill="#C6101E"/>
<circle cx="390.70" cy="545.88" r="2.50" fill="#C6101E"/>
<circle cx="390.70" cy="549.81" r="1.90" fill="#C6101E"/>
<circle cx="390.70" cy="569.48" r="1.60" fill="#C6101E"/>
<circle cx="390.70" cy="573.42" r="1.70" fill="#C6101E"/>
<circle cx="390.70" cy="577.35" r="2.60" fill="#C6101E"/>
<circle cx="390.70" cy="585.22" r="2.20" fill="#C6101E"/>
<circle cx="390.70" cy="589.15" r="2.20" fill="#C6101E"/>
<circle cx="390.70" cy="593.09" r="2.20" fill="#C6101E"/>
<circle cx="390.70" cy="597.02" r="2.20" fill="#C6101E"/>
<circle cx="390.70" cy="600.96" r="2.20" fill="#C6101E"/>
<circle cx="390.70" cy="604.89" r="2.40" fill="#C6101E"/>
<circle cx="390.70" cy="608.83" r="2.50" fill="#C6101E"/>
<circle cx="390.70" cy="612.76" r="2.20" fill="#C6101E"/>
<circle cx="390.70" cy="616.70" r="2.00" fill="#C6101E"/>
<circle cx="390.70" cy="620.63" r="2.20" fill="#C6101E"/>
<circle cx="390.70" cy="636.37" r="1.70" fill="#C6101E"/>
<circle cx="390.70" cy="640.30" r="1.60" fill="#C6101E"/>
<circle cx="390.70" cy="644.24" r="1.50" fill="#C6101E"/>
<circle cx="390.70" cy="648.17" r="1.50" fill="#C6101E"/>
<circle cx="390.70" cy="652.10" r="1.50" fill="#C6101E"/>
<circle cx="390.70" cy="656.04" r="1.50" fill="#C6101E"/>
<circle cx="407.28" cy="502.60" r="2.70" fill="#C6101E"/>
<circle cx="407.28" cy="506.53" r="2.50" fill="#C6101E"/>
<circle cx="407.28" cy="510.47" r="2.50" fill="#C81038"/>
<circle cx="407.28" cy="518.34" r="2.70" fill="#C6101E"/>
<circle cx="407.28" cy="526.20" r="2.60" fill="#C6101E"/>
<circle cx="407.28" cy="534.07" r="1.70" fill="#C6101E"/>
<circle cx="407.28" cy="538.01" r="2.50" fill="#C6101E"/>
<circle cx="407.28" cy="541.94" r="2.50" fill="#C6101E"/>
<circle cx="407.28" cy="545.88" r="2.50" fill="#C6101E"/>
<circle cx="407.28" cy="561.61" r="1.90" fill="#C6101E"/>
<circle cx="407.28" cy="565.55" r="1.90" fill="#C6101E"/>
<circle cx="407.28" cy="569.48" r="1.50" fill="#C6101E"/>
<circle cx="407.28" cy="573.42" r="1.65" fill="#C6101E"/>
<circle cx="407.28" cy="577.35" r="2.70" fill="#C6101E"/>
<circle cx="407.28" cy="585.22" r="2.20" fill="#C6101E"/>
<circle cx="407.28" cy="589.15" r="2.10" fill="#C6101E"/>
<circle cx="407.28" cy="593.09" r="2.20" fill="#C6101E"/>
<circle cx="407.28" cy="597.02" r="2.20" fill="#C6101E"/>
<circle cx="407.28" cy="604.89" r="2.40" fill="#C6101E"/>
<circle cx="407.28" cy="608.83" r="2.60" fill="#C6101E"/>
<circle cx="407.28" cy="612.76" r="2.20" fill="#C6101E"/>
<circle cx="407.28" cy="616.70" r="2.00" fill="#C6101E"/>
<circle cx="407.28" cy="620.63" r="2.20" fill="#C6101E"/>
<circle cx="407.28" cy="636.37" r="1.50" fill="#C6101E"/>
<circle cx="407.28" cy="640.30" r="1.50" fill="#C6101E"/>
<circle cx="407.28" cy="644.24" r="1.40" fill="#C6101E"/>
<circle cx="407.28" cy="648.17" r="1.40" fill="#C6101E"/>
<circle cx="407.28" cy="652.10" r="1.40" fill="#C6101E"/>
<circle cx="407.28" cy="656.04" r="1.25" fill="#C6101E"/>
<circle cx="423.86" cy="514.40" r="2.60" fill="#C6101E"/>
<circle cx="423.86" cy="522.27" r="2.20" fill="#C8102E"/>
<circle cx="423.86" cy="526.20" r="2.50" fill="#C6101E"/>
<circle cx="423.86" cy="530.14" r="2.00" fill="#C6101E"/>
<circle cx="423.86" cy="534.07" r="1.60" fill="#C6101E"/>
<circle cx="423.86" cy="545.88" r="2.60" fill="#C6101E"/>
<circle cx="423.86" cy="549.81" r="2.00" fill="#C6101E"/>
<circle cx="423.86" cy="553.75" r="2.20" fill="#C6101E"/>
<circle cx="423.86" cy="557.68" r="2.60" fill="#C6101E"/>
<circle cx="423.86" cy="569.48" r="1.50" fill="#C6101E"/>
<circle cx="423.86" cy="577.35" r="2.60" fill="#C6101E"/>
<circle cx="423.86" cy="581.29" r="2.20" fill="#C6101E"/>
<circle cx="423.86" cy="585.22" r="1.90" fill="#C6101E"/>
<circle cx="423.86" cy="589.15" r="1.90" fill="#C6101E"/>
<circle cx="423.86" cy="593.09" r="2.10" fill="#C6101E"/>
<circle cx="423.86" cy="604.89" r="2.40" fill="#C6101E"/>
<circle cx="423.86" cy="608.83" r="2.50" fill="#C6101E"/>
<circle cx="423.86" cy="612.76" r="2.10" fill="#C6101E"/>
<circle cx="423.86" cy="616.70" r="2.00" fill="#C6101E"/>
<circle cx="423.86" cy="636.37" r="1.50" fill="#C6101E"/>
<circle cx="423.86" cy="640.30" r="1.50" fill="#C6101E"/>
<circle cx="423.86" cy="644.24" r="1.40" fill="#C6101E"/>
<circle cx="423.86" cy="648.17" r="1.40" fill="#C6101E"/>
<circle cx="423.86" cy="652.10" r="1.40" fill="#C6101E"/>
<circle cx="423.86" cy="656.04" r="1.25" fill="#C6101E"/>
<circle cx="440.44" cy="502.60" r="2.70" fill="#C6101E"/>
<circle cx="440.44" cy="510.47" r="2.20" fill="#C6101E"/>
<circle cx="440.44" cy="518.34" r="2.70" fill="#C6101E"/>
<circle cx="440.44" cy="526.20" r="2.60" fill="#C6101E"/>
<circle cx="440.44" cy="538.01" r="2.60" fill="#C6101E"/>
<circle cx="440.44" cy="541.94" r="2.60" fill="#C6101E"/>
<circle cx="440.44" cy="545.88" r="2.60" fill="#C6101E"/>
<circle cx="440.44" cy="549.81" r="2.00" fill="#C6101E"/>
<circle cx="440.44" cy="561.61" r="1.90" fill="#C6101E"/>
<circle cx="440.44" cy="565.55" r="1.90" fill="#C6101E"/>
<circle cx="440.44" cy="573.42" r="1.65" fill="#C6101E"/>
<circle cx="440.44" cy="577.35" r="2.50" fill="#C6101E"/>
<circle cx="440.44" cy="585.22" r="2.00" fill="#C6101E"/>
<circle cx="440.44" cy="589.15" r="2.10" fill="#C6101E"/>
<circle cx="440.44" cy="593.09" r="2.10" fill="#C6101E"/>
<circle cx="440.44" cy="597.02" r="2.00" fill="#C6101E"/>
<circle cx="440.44" cy="600.96" r="2.00" fill="#C6101E"/>
<circle cx="440.44" cy="604.89" r="2.40" fill="#C6101E"/>
<circle cx="440.44" cy="608.83" r="2.60" fill="#C6101E"/>
<circle cx="440.44" cy="612.76" r="2.10" fill="#C6101E"/>
<circle cx="440.44" cy="616.70" r="1.90" fill="#C6101E"/>
<circle cx="440.44" cy="620.63" r="2.00" fill="#C6101E"/>
<circle cx="440.44" cy="624.56" r="2.70" fill="#C6101E"/>
<circle cx="457.02" cy="502.60" r="2.70" fill="#C81038"/>
<circle cx="457.02" cy="518.34" r="2.70" fill="#C6101E"/>
<circle cx="457.02" cy="526.20" r="2.60" fill="#C6101E"/>
<circle cx="457.02" cy="534.07" r="1.60" fill="#C6101E"/>
<circle cx="457.02" cy="538.01" r="2.60" fill="#C6101E"/>
<circle cx="457.02" cy="541.94" r="2.60" fill="#C6101E"/>
<circle cx="457.02" cy="545.88" r="2.50" fill="#C6101E"/>
<circle cx="457.02" cy="549.81" r="1.90" fill="#C6101E"/>
<circle cx="457.02" cy="573.42" r="1.65" fill="#C6101E"/>
<circle cx="457.02" cy="577.35" r="2.60" fill="#C6101E"/>
<circle cx="457.02" cy="585.22" r="2.00" fill="#C6101E"/>
<circle cx="457.02" cy="589.15" r="2.10" fill="#C6101E"/>
<circle cx="457.02" cy="593.09" r="2.20" fill="#C6101E"/>
<circle cx="457.02" cy="597.02" r="2.20" fill="#C6101E"/>
<circle cx="457.02" cy="600.96" r="2.10" fill="#C6101E"/>
<circle cx="457.02" cy="604.89" r="2.50" fill="#C6101E"/>
<circle cx="457.02" cy="608.83" r="2.60" fill="#C6101E"/>
<circle cx="457.02" cy="612.76" r="2.10" fill="#C6101E"/>
<circle cx="457.02" cy="616.70" r="1.90" fill="#C6101E"/>
<circle cx="457.02" cy="620.63" r="2.10" fill="#C6101E"/>
<circle cx="457.02" cy="624.56" r="2.70" fill="#C6101E"/>
</g>
<rect x="298.7" y="484.5" width="167.90" height="173.90" fill="none" stroke="#000" stroke-width="1.05"/>
<rect x="298.7" y="473.7" width="167.90" height="10.80" fill="#DCDCDC" stroke="#000" stroke-width="1.05"/>
<text x="382.65" y="481.4" font-size="6.6" text-anchor="middle" fill="#1a1a1a" stroke="#1a1a1a">upregulated</text>
<text transform="translate(311.10,668.1) rotate(-45)" text-anchor="end" font-size="4.45" fill="#000" stroke="#000">CN</text>
<text transform="translate(327.65,668.1) rotate(-45)" text-anchor="end" font-size="4.45" fill="#000" stroke="#000">inv(16)</text>
<text transform="translate(344.20,668.1) rotate(-45)" text-anchor="end" font-size="4.45" fill="#000" stroke="#000">t(15;17)</text>
<text transform="translate(360.75,668.1) rotate(-45)" text-anchor="end" font-size="4.45" fill="#000" stroke="#000">t(8;21)</text>
<text transform="translate(377.30,668.1) rotate(-45)" text-anchor="end" font-size="4.45" fill="#000" stroke="#000">t(9;11)</text>
<text transform="translate(393.85,668.1) rotate(-45)" text-anchor="end" font-size="4.45" fill="#000" stroke="#000">Trisomy8</text>
<text transform="translate(410.40,668.1) rotate(-45)" text-anchor="end" font-size="4.45" fill="#000" stroke="#000">Complex</text>
<text transform="translate(426.95,668.1) rotate(-45)" text-anchor="end" font-size="4.45" fill="#000" stroke="#000">t(v;11)</text>
<text transform="translate(443.50,668.1) rotate(-45)" text-anchor="end" font-size="4.45" fill="#000" stroke="#000">del(7q)</text>
<text transform="translate(460.05,668.1) rotate(-45)" text-anchor="end" font-size="4.45" fill="#000" stroke="#000">NOS</text>
<path d="M308.10,658.4V661.4M324.65,658.4V661.4M341.20,658.4V661.4M357.75,658.4V661.4M374.30,658.4V661.4M390.85,658.4V661.4M407.40,658.4V661.4M423.95,658.4V661.4M440.50,658.4V661.4M457.05,658.4V661.4" stroke="#000" stroke-width="0.9"/>
<text x="114.2" y="488.71" font-size="4.35" text-anchor="end" fill="#000" style="stroke:#000;stroke-width:0.04px">neutrophil activation</text>
<text x="114.2" y="492.65" font-size="4.35" text-anchor="end" fill="#000" style="stroke:#000;stroke-width:0.04px">neutrophil activation involved in immune response</text>
<text x="114.2" y="496.58" font-size="4.35" text-anchor="end" fill="#000" style="stroke:#000;stroke-width:0.04px">neutrophil degranulation</text>
<text x="114.2" y="500.51" font-size="4.35" text-anchor="end" fill="#000" style="stroke:#000;stroke-width:0.04px">neutrophil mediated immunity</text>
<text x="114.2" y="504.45" font-size="4.35" text-anchor="end" fill="#000" style="stroke:#000;stroke-width:0.04px">T cell activation</text>
<text x="114.2" y="508.38" font-size="4.35" text-anchor="end" fill="#000" style="stroke:#000;stroke-width:0.04px">leukocyte migration</text>
<text x="114.2" y="512.32" font-size="4.35" text-anchor="end" fill="#000" style="stroke:#000;stroke-width:0.04px">leukocyte cell-cell adhesion</text>
<text x="114.2" y="516.25" font-size="4.35" text-anchor="end" fill="#000" style="stroke:#000;stroke-width:0.04px">positive regulation of cell adhesion</text>
<text x="114.2" y="520.19" font-size="4.35" text-anchor="end" fill="#000" style="stroke:#000;stroke-width:0.04px">negative regulation of immune system process</text>
<text x="114.2" y="524.12" font-size="4.35" text-anchor="end" fill="#000" style="stroke:#000;stroke-width:0.04px">lymphocyte proliferation</text>
<text x="114.2" y="528.05" font-size="4.35" text-anchor="end" fill="#000" style="stroke:#000;stroke-width:0.04px">regulation of apoptotic signaling pathway</text>
<text x="114.2" y="531.99" font-size="4.35" text-anchor="end" fill="#000" style="stroke:#000;stroke-width:0.04px">detoxification</text>
<text x="114.2" y="535.92" font-size="4.35" text-anchor="end" fill="#000" style="stroke:#000;stroke-width:0.04px">response to cadmium ion</text>
<text x="114.2" y="539.86" font-size="4.35" text-anchor="end" fill="#000" style="stroke:#000;stroke-width:0.04px">negative regulation of phosphorylation</text>
<text x="114.2" y="543.79" font-size="4.35" text-anchor="end" fill="#000" style="stroke:#000;stroke-width:0.04px">negative regulation of protein phosphorylation</text>
<text x="114.2" y="547.73" font-size="4.35" text-anchor="end" fill="#000" style="stroke:#000;stroke-width:0.04px">ossification</text>
<text x="114.2" y="551.66" font-size="4.35" text-anchor="end" fill="#000" style="stroke:#000;stroke-width:0.04px">regulation of nucleocytoplasmic transport</text>
<text x="114.2" y="555.60" font-size="4.35" text-anchor="end" fill="#000" style="stroke:#000;stroke-width:0.04px">glycoprotein biosynthetic process</text>
<text x="114.2" y="559.53" font-size="4.35" text-anchor="end" fill="#000" style="stroke:#000;stroke-width:0.04px">sulfur compound metabolic process</text>
<text x="114.2" y="563.46" font-size="4.35" text-anchor="end" fill="#000" style="stroke:#000;stroke-width:0.04px">response to leukemia inhibitory factor</text>
<text x="114.2" y="567.40" font-size="4.35" text-anchor="end" fill="#000" style="stroke:#000;stroke-width:0.04px">cellular response to leukemia inhibitory factor</text>
<text x="114.2" y="571.33" font-size="4.35" text-anchor="end" fill="#000" style="stroke:#000;stroke-width:0.04px">cellular response to cadmium ion</text>
<text x="114.2" y="575.27" font-size="4.35" text-anchor="end" fill="#000" style="stroke:#000;stroke-width:0.04px">negative regulation of leukocyte migration</text>
<text x="114.2" y="579.20" font-size="4.35" text-anchor="end" fill="#000" style="stroke:#000;stroke-width:0.04px">positive regulation of cell projection organization</text>
<text x="114.2" y="583.14" font-size="4.35" text-anchor="end" fill="#000" style="stroke:#000;stroke-width:0.04px">glycoprotein metabolic process</text>
<text x="114.2" y="587.07" font-size="4.35" text-anchor="end" fill="#000" style="stroke:#000;stroke-width:0.04px">embryonic skeletal system morphogenesis</text>
<text x="114.2" y="591.00" font-size="4.35" text-anchor="end" fill="#000" style="stroke:#000;stroke-width:0.04px">embryonic skeletal system development</text>
<text x="114.2" y="594.94" font-size="4.35" text-anchor="end" fill="#000" style="stroke:#000;stroke-width:0.04px">skeletal system morphogenesis</text>
<text x="114.2" y="598.87" font-size="4.35" text-anchor="end" fill="#000" style="stroke:#000;stroke-width:0.04px">anterior&#47;posterior pattern specification</text>
<text x="114.2" y="602.81" font-size="4.35" text-anchor="end" fill="#000" style="stroke:#000;stroke-width:0.04px">cytoplasmic translation</text>
<text x="114.2" y="606.74" font-size="4.35" text-anchor="end" fill="#000" style="stroke:#000;stroke-width:0.04px">epithelial tube morphogenesis</text>
<text x="114.2" y="610.68" font-size="4.35" text-anchor="end" fill="#000" style="stroke:#000;stroke-width:0.04px">positive regulation of neurogenesis</text>
<text x="114.2" y="614.61" font-size="4.35" text-anchor="end" fill="#000" style="stroke:#000;stroke-width:0.04px">embryonic epithelial tube formation</text>
<text x="114.2" y="618.55" font-size="4.35" text-anchor="end" fill="#000" style="stroke:#000;stroke-width:0.04px">neural tube formation</text>
<text x="114.2" y="622.48" font-size="4.35" text-anchor="end" fill="#000" style="stroke:#000;stroke-width:0.04px">regulation of mRNA stability</text>
<text x="114.2" y="626.41" font-size="4.35" text-anchor="end" fill="#000" style="stroke:#000;stroke-width:0.04px">ribonucleoprotein complex biogenesis</text>
<text x="114.2" y="630.35" font-size="4.35" text-anchor="end" fill="#000" style="stroke:#000;stroke-width:0.04px">ribosome biogenesis</text>
<text x="114.2" y="634.28" font-size="4.35" text-anchor="end" fill="#000" style="stroke:#000;stroke-width:0.04px">response to endoplasmic reticulum stress</text>
<text x="114.2" y="638.22" font-size="4.35" text-anchor="end" fill="#000" style="stroke:#000;stroke-width:0.04px">cellular zinc ion homeostasis</text>
<text x="114.2" y="642.15" font-size="4.35" text-anchor="end" fill="#000" style="stroke:#000;stroke-width:0.04px">zinc ion homeostasis</text>
<text x="114.2" y="646.09" font-size="4.35" text-anchor="end" fill="#000" style="stroke:#000;stroke-width:0.04px">stress response to metal ion</text>
<text x="114.2" y="650.02" font-size="4.35" text-anchor="end" fill="#000" style="stroke:#000;stroke-width:0.04px">detoxification of copper ion</text>
<text x="114.2" y="653.95" font-size="4.35" text-anchor="end" fill="#000" style="stroke:#000;stroke-width:0.04px">stress response of copper ion</text>
<text x="114.2" y="657.89" font-size="4.35" text-anchor="end" fill="#000" style="stroke:#000;stroke-width:0.04px">detoxification of inorganic compound</text>
<path d="M116.8,486.86H120.5M116.8,490.80H120.5M116.8,494.73H120.5M116.8,498.66H120.5M116.8,502.60H120.5M116.8,506.53H120.5M116.8,510.47H120.5M116.8,514.40H120.5M116.8,518.34H120.5M116.8,522.27H120.5M116.8,526.20H120.5M116.8,530.14H120.5M116.8,534.07H120.5M116.8,538.01H120.5M116.8,541.94H120.5M116.8,545.88H120.5M116.8,549.81H120.5M116.8,553.75H120.5M116.8,557.68H120.5M116.8,561.61H120.5M116.8,565.55H120.5M116.8,569.48H120.5M116.8,573.42H120.5M116.8,577.35H120.5M116.8,581.29H120.5M116.8,585.22H120.5M116.8,589.15H120.5M116.8,593.09H120.5M116.8,597.02H120.5M116.8,600.96H120.5M116.8,604.89H120.5M116.8,608.83H120.5M116.8,612.76H120.5M116.8,616.70H120.5M116.8,620.63H120.5M116.8,624.56H120.5M116.8,628.50H120.5M116.8,632.43H120.5M116.8,636.37H120.5M116.8,640.30H120.5M116.8,644.24H120.5M116.8,648.17H120.5M116.8,652.10H120.5M116.8,656.04H120.5" stroke="#000" stroke-width="0.8"/>
<text x="478" y="505" font-size="6.6" fill="#111" stroke="#111">GeneRatio</text>
<circle cx="483" cy="514.90" r="2.1" fill="#111"/>
<text x="491.7" y="516.85" font-size="5.5" fill="#222">0.025</text>
<circle cx="483" cy="525.93" r="3.0" fill="#111"/>
<text x="491.7" y="527.88" font-size="5.5" fill="#222">0.050</text>
<circle cx="483" cy="536.96" r="3.55" fill="#111"/>
<text x="491.7" y="538.91" font-size="5.5" fill="#222">0.075</text>
<circle cx="483" cy="547.99" r="3.95" fill="#111"/>
<text x="491.7" y="549.94" font-size="5.5" fill="#222">0.100</text>
<circle cx="483" cy="559.02" r="4.35" fill="#111"/>
<text x="491.7" y="560.97" font-size="5.5" fill="#222">0.125</text>
<text x="478" y="585" font-size="6.6" fill="#111" stroke="#111">p.adjust</text>
<linearGradient id="pg" x1="0" y1="0" x2="0" y2="1"><stop offset="0" stop-color="#D2001C"/><stop offset="0.3" stop-color="#C0005A"/><stop offset="0.5" stop-color="#A00090"/><stop offset="0.7" stop-color="#7A3090"/><stop offset="1" stop-color="#3848A0"/></linearGradient>
<rect x="477.2" y="588.8" width="11.3" height="55" fill="url(#pg)"/>
<path d="M477.2,601.1h2.2M486.3,601.1h2.2" stroke="#fff" stroke-width="0.5" opacity="0.8"/>
<text x="491.7" y="603.05" font-size="5.5" fill="#222">0.01</text>
<path d="M477.2,612.0h2.2M486.3,612.0h2.2" stroke="#fff" stroke-width="0.5" opacity="0.8"/>
<text x="491.7" y="613.95" font-size="5.5" fill="#222">0.02</text>
<path d="M477.2,623.1h2.2M486.3,623.1h2.2" stroke="#fff" stroke-width="0.5" opacity="0.8"/>
<text x="491.7" y="625.05" font-size="5.5" fill="#222">0.03</text>
<path d="M477.2,633.8h2.2M486.3,633.8h2.2" stroke="#fff" stroke-width="0.5" opacity="0.8"/>
<text x="491.7" y="635.75" font-size="5.5" fill="#222">0.04</text>
<g font-size="12.6" font-weight="bold" fill="#000" stroke="#000"><text x="5.9" y="18.8">A</text><text x="6.0" y="249.9">B</text><text x="5.2" y="480.6">C</text></g>
<rect x="0" y="0" width="520" height="1.2" fill="#000"/><rect x="0" y="0" width="1.4" height="689" fill="#000"/><rect x="0" y="687.6" width="520" height="1.4" fill="#000"/><rect x="518.6" y="0" width="1.4" height="689" fill="#000"/>
</svg></body></html>
